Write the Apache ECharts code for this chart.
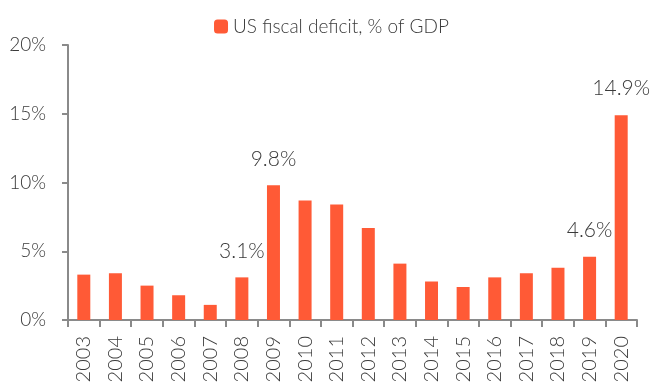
<!DOCTYPE html>
<html>
<head>
<meta charset="utf-8">
<script src="https://cdn.jsdelivr.net/npm/echarts@6/dist/echarts.min.js"></script>
<style>html,body{margin:0;padding:0;background:#fff}#c{width:663px;height:388px}</style>
</head>
<body>
<div id="c"></div>
<script>
var years = ['2003','2004','2005','2006','2007','2008','2009','2010','2011','2012','2013','2014','2015','2016','2017','2018','2019','2020'];
var deficit = [3.3, 3.4, 2.5, 1.8, 1.1, 3.1, 9.8, 8.7, 8.4, 6.7, 4.1, 2.8, 2.4, 3.1, 3.4, 3.8, 4.6, 14.9];
var labelledYears = ['2008', '2009', '2019', '2020'];
var seriesName = 'US fiscal deficit, % of GDP';
var yTicks = [0, 5, 10, 15, 20];

var FONT = 'Lato';
var TXT = '#3a3a3a';
var AX = '#8a8a8a';
var chart = echarts.init(document.getElementById('c'), null, {renderer: 'canvas'});
chart.setOption({
  animation: false,
  legend: {
    top: 12, left: 'center',
    itemWidth: 14, itemHeight: 14,
    itemGap: 6,
    textStyle: {fontFamily: FONT, fontWeight: 300, fontSize: 19, color: TXT},
    data: [seriesName]
  },
  grid: {left: 68, right: 26, top: 45, bottom: 68, containLabel: false},
  xAxis: {
    type: 'category',
    data: years,
    axisLine: {lineStyle: {color: AX, width: 2}},
    axisTick: {show: true, length: 7, lineStyle: {color: AX, width: 2}},
    axisLabel: {rotate: 90, margin: 16, fontFamily: FONT, fontWeight: 300, fontSize: 20, color: TXT}
  },
  yAxis: {
    type: 'value',
    min: yTicks[0], max: yTicks[yTicks.length - 1], interval: 5,
    splitLine: {show: false},
    axisLine: {show: true, lineStyle: {color: AX, width: 2}},
    axisTick: {show: true, length: 6, lineStyle: {color: AX, width: 2}},
    axisLabel: {margin: 22, fontFamily: FONT, fontWeight: 300, fontSize: 19, color: TXT,
      formatter: function (v) { return v + '%'; }}
  },
  series: [{
    name: seriesName,
    type: 'bar',
    barWidth: 13,
    itemStyle: {color: '#FF5A36'},
    data: deficit.map(function (v, i) {
      var show = labelledYears.indexOf(years[i]) >= 0;
      return {
        value: v,
        label: {
          show: show, position: 'top', distance: 16,
          fontFamily: FONT, fontWeight: 300, fontSize: 21, color: TXT,
          formatter: function (p) { return p.value.toFixed(1) + '%'; }
        }
      };
    })
  }]
});
</script>
</body>
</html>
